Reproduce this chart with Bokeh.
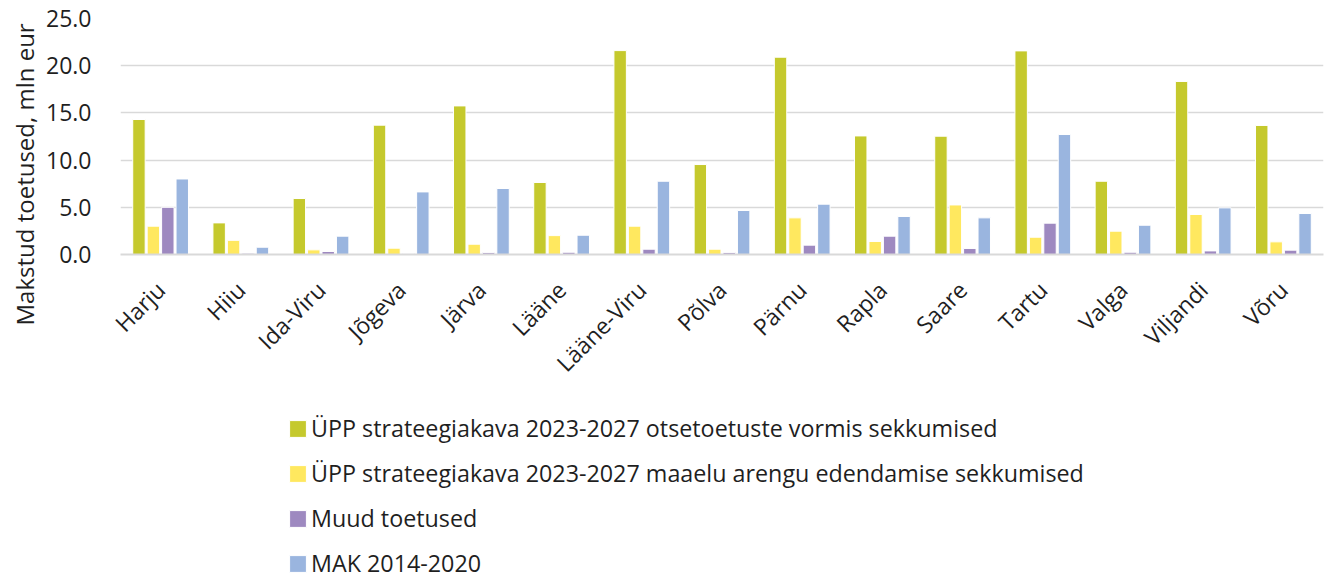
import math
from bokeh.plotting import figure
from bokeh.layouts import column
from bokeh.models import (ColumnDataSource, FactorRange, Range1d, Legend, LegendItem,
                          FixedTicker, NumeralTickFormatter, Title)
from bokeh.transform import dodge
from bokeh.embed import file_html
from bokeh.resources import INLINE

counties = ["Harju", "Hiiu", "Ida-Viru", "Jõgeva", "Järva", "Lääne", "Lääne-Viru", "Põlva",
            "Pärnu", "Rapla", "Saare", "Tartu", "Valga", "Viljandi", "Võru"]
otsetoetused = [14.3, 3.35, 5.93, 13.7, 15.74, 7.63, 21.6, 9.53, 20.9, 12.56, 12.53, 21.57, 7.76, 18.33, 13.67]
maaelu = [3.0, 1.5, 0.49, 0.67, 1.09, 2.0, 3.0, 0.56, 3.88, 1.38, 5.25, 1.83, 2.47, 4.24, 1.34]
muud = [5.0, 0.14, 0.32, 0.1, 0.2, 0.24, 0.56, 0.2, 0.99, 1.94, 0.64, 3.32, 0.24, 0.38, 0.46]
mak = [8.0, 0.77, 1.94, 6.63, 6.99, 2.04, 7.76, 4.66, 5.33, 4.03, 3.88, 12.71, 3.1, 4.94, 4.34]

series_names = ["ÜPP strateegiakava 2023-2027 otsetoetuste vormis sekkumised",
                "ÜPP strateegiakava 2023-2027 maaelu arengu edendamise sekkumised",
                "Muud toetused",
                "MAK 2014-2020"]
colors = ["#C5C92D", "#FFE85F", "#9E89C0", "#9AB5DF"]
y_ticks = [0, 5, 10, 15, 20, 25]
y_title = "Makstud toetused, mln eur"

FONT = "Open Sans"
FS = "23px"
TXT = "#1F1F1F"

src = ColumnDataSource(dict(county=counties, s0=otsetoetused, s1=maaelu, s2=muud, s3=mak))

# ---- main chart ----
p = figure(x_range=FactorRange(*counties, range_padding=0), y_range=Range1d(0, 25),
           width=1329, height=400, output_backend="svg", toolbar_location=None,
           min_border_left=120, min_border_right=6, min_border_top=18, min_border_bottom=146)
p.outline_line_color = None

offsets = [-0.27, -0.09, 0.09, 0.27]
for i, key in enumerate(["s0", "s1", "s2", "s3"]):
    p.vbar(x=dodge("county", offsets[i], range=p.x_range), top=key, width=0.155,
           source=src, fill_color=colors[i], line_color="white", line_width=1)

p.xgrid.grid_line_color = None
p.ygrid.grid_line_color = "#D9D9D9"
p.ygrid.grid_line_width = 1.5
p.yaxis.ticker = FixedTicker(ticks=y_ticks)
p.yaxis.formatter = NumeralTickFormatter(format="0.0")
p.yaxis.axis_line_color = None
p.yaxis.major_tick_line_color = None
p.yaxis.minor_tick_line_color = None
p.yaxis.major_label_standoff = 23
p.yaxis.major_label_text_font = FONT
p.yaxis.major_label_text_font_size = FS
p.yaxis.major_label_text_color = TXT

# y-axis title as a left-side Title, so it can sit lower than the frame centre
p.add_layout(Title(text=y_title, align="left", offset=-71, standoff=6,
                   text_font=FONT, text_font_size="24px", text_font_style="normal",
                   text_color=TXT), "left")

p.xaxis.axis_line_color = "#D9D9D9"
p.xaxis.axis_line_width = 2
p.xaxis.major_tick_line_color = None
p.xaxis.minor_tick_line_color = None
p.xaxis.major_label_orientation = math.pi / 4
p.xaxis.major_label_standoff = 25
p.xaxis.major_label_text_font = FONT
p.xaxis.major_label_text_font_size = FS
p.xaxis.major_label_text_color = TXT

# ---- legend strip ----
q = figure(x_range=Range1d(0, 1), y_range=Range1d(0, 1), width=1329, height=179,
           output_backend="svg", toolbar_location=None,
           x_axis_location=None, y_axis_location=None,
           min_border_left=0, min_border_right=0, min_border_top=0, min_border_bottom=0)
q.outline_line_color = None
q.xgrid.visible = False
q.ygrid.visible = False
# legend swatches: zero-size rects, nothing visible is drawn in the strip itself
swatches = [q.vbar(x=[0.5], top=[0], bottom=[0], width=0, fill_color=c,
                   line_color="white", line_width=1)
            for c in colors]
legend = Legend(items=[LegendItem(label=series_names[i], renderers=[swatches[i]]) for i in range(4)],
                location=(167, 0), orientation="vertical",
                glyph_width=21, glyph_height=21, label_height=31, label_standoff=3,
                spacing=13, padding=0, margin=0,
                border_line_color=None, background_fill_alpha=0,
                label_text_font=FONT, label_text_font_size="23.3px", label_text_color=TXT)
q.add_layout(legend, "center")

layout = column(p, q, spacing=0)
open("out.html", "w").write(file_html(layout, INLINE))
